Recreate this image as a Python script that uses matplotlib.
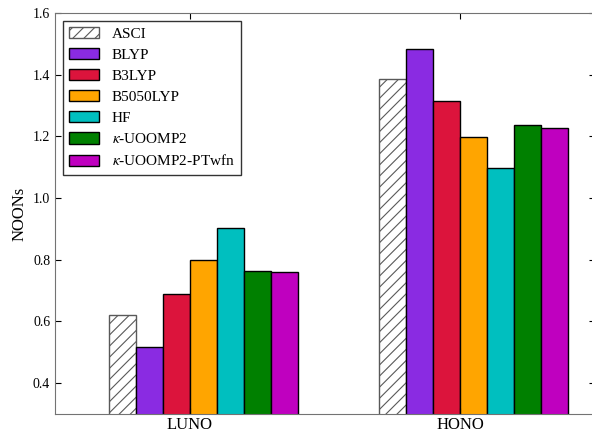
import matplotlib
matplotlib.use("Agg")
import matplotlib.pyplot as plt
import numpy as np

plt.rcParams["font.family"] = ["Liberation Serif", "DejaVu Serif"]
plt.rcParams["mathtext.fontset"] = "stix"
plt.rcParams["hatch.color"] = "0.35"
plt.rcParams["hatch.linewidth"] = 0.8

molecules = ["LUNO", "HONO"]
methods = ["ASCI", "BLYP", "B3LYP", "B5050LYP", "HF",
           r"$\kappa$-UOOMP2", r"$\kappa$-UOOMP2-PTwfn"]
colors = ["white", "blueviolet", "crimson", "orange", "c", "green", "m"]

asci = [0.62, 1.386]
blyp = [0.517, 1.484]
b3lyp = [0.688, 1.314]
b5050lyp = [0.800, 1.198]
hf = [0.902, 1.096]
k_uoomp2 = [0.763, 1.237]
k_uoomp2_ptwfn = [0.761, 1.227]
series = [asci, blyp, b3lyp, b5050lyp, hf, k_uoomp2, k_uoomp2_ptwfn]

fig = plt.figure(figsize=(5.92, 4.32), dpi=100)
# right spine sits just past the figure edge, as in the cropped original
ax = fig.add_axes([55 / 592, 18 / 432, 540 / 592, 401 / 432])

x = np.arange(len(molecules))
width = 0.1
for k, (vals, name, col) in enumerate(zip(series, methods, colors)):
    if k == 0:
        ax.bar(x - 0.3 + k * width, vals, width, align="edge", color="white",
               edgecolor="0.35", hatch="///", label=name, linewidth=1)
    else:
        ax.bar(x - 0.3 + k * width, vals, width, align="edge", color=col,
               edgecolor="black", label=name, linewidth=1)

ax.set_xlim(-0.5, 1.5)
ax.set_ylim(0.3, 1.6)
ax.set_yticks([0.4, 0.6, 0.8, 1.0, 1.2, 1.4, 1.6])
ax.set_xticks(x)
ax.set_xticklabels(molecules, fontsize=12)
ax.tick_params(axis="y", labelsize=10, direction="in", right=True, length=4)
ax.tick_params(axis="x", direction="in", top=True, length=4, pad=2)
ax.set_ylabel("NOONs", fontsize=12)
for s in ax.spines.values():
    s.set_color("0.45")
ax.spines["right"].set_visible(False)

leg = ax.legend(loc="upper left", fontsize=11, frameon=True, fancybox=False,
                borderaxespad=0.5, handlelength=2.0, handleheight=0.75,
                labelspacing=0.47, handletextpad=0.8)
leg.get_frame().set_edgecolor("black")

fig.savefig("out.png", dpi=100)
